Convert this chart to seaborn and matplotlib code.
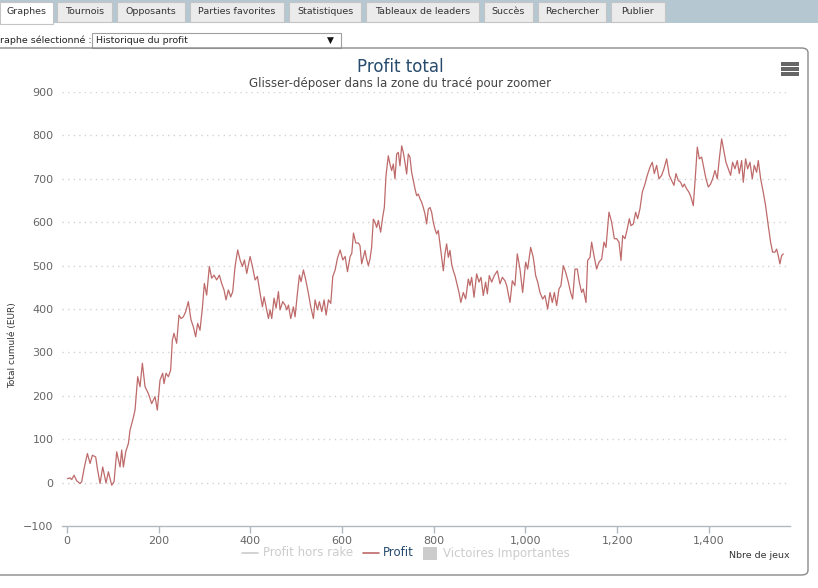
import matplotlib
matplotlib.use("Agg")
import matplotlib.pyplot as plt
from matplotlib.patches import Rectangle, FancyBboxPatch
from matplotlib.lines import Line2D
from matplotlib.ticker import FuncFormatter
import seaborn as sns
import pandas as pd

# ---------------- data ----------------
games = [0.7, 6.5, 10.2, 15.3, 21.1, 28.4, 32, 37.1, 44.4, 50.2, 55.3, 62.5, 66.2, 72, 77.8, 85,
         90.2, 97.4, 102.5, 108.3, 115.6, 119.2, 122.9, 128, 133.8, 137.4, 143.2, 148.3, 154.1,
         159.2, 164.3, 170.1, 177.4, 184.6, 191.9, 197, 202.8, 208.6, 211.5, 215.9, 221, 226,
         229.7, 233.3, 239.1, 244.2, 248.6, 253.7, 258.8, 264.6, 270.4, 275.5, 280.6, 284.9, 290,
         295.2, 299.5, 304.6, 310.4, 315.5, 320.6, 326.4, 332.2, 337.3, 342.4, 346.8, 351.9, 357,
         361.4, 366.5, 372.3, 377.4, 382.5, 386.9, 392, 399.3, 404.4, 410.2, 415.3, 421.1, 426.2,
         429.8, 435.6, 439.3, 442.9, 446.5, 451.6, 456, 461.1, 464.7, 470.5, 475.6, 479.3, 482.9,
         488, 493.8, 497.4, 502.5, 506.9, 510.5, 515.6, 520.7, 526.5, 531.6, 537.4, 541.1, 546.2,
         550.5, 555.6, 560.7, 565.1, 570.2, 575.3, 579.7, 584.8, 589.9, 595.7, 601.5, 606.6, 611.7,
         617.5, 621.1, 624.8, 629.9, 635.7, 639.0,
         642.7, 646.3, 649.9, 653.5, 657.2, 660.8, 664.4, 668.1, 671.7, 675.4, 679, 684.1, 688.4,
         692.1, 695.7, 700.8, 704.4, 708.1, 711.7, 715.3, 719, 722.6, 726.2, 729.9, 733.5, 737.1,
         740.8, 744.4, 748, 751.7, 755.3, 759, 762.6, 766.2, 769.9, 773.5, 777.1, 780.8, 784.4,
         788, 791.7, 795.3, 798.9, 802.6, 806.2, 809.8, 813.5, 817.1, 820.8, 824.4, 828, 831.7,
         835.3, 838.9, 842.6, 846.2,
         855, 859, 864.4, 869.5, 875.3, 879, 882.6, 887.7, 893.5, 898.6, 903, 908, 913, 916.8,
         921, 926.2, 932, 938.6, 944.4, 949.5, 955.3, 959, 966.2, 971.3, 977, 982.2, 988, 993.8,
         1000.4, 1004.7, 1011.3, 1017, 1022.2, 1026.6, 1031.6, 1037.5, 1042.5, 1048.4, 1053.5,
         1058.5, 1063, 1068, 1073, 1077.4, 1082.5, 1087.6, 1093.4, 1098.5, 1102.9, 1108, 1113,
         1117.4, 1122.5, 1126, 1132, 1135.6, 1140.7, 1144.3, 1149.4, 1155.2, 1160.3, 1166.2,
         1171.2, 1175.6, 1182.1, 1188, 1193.8, 1198.9, 1204, 1208.3, 1212, 1217, 1222.1, 1226.5,
         1230.1, 1235.2, 1240.3, 1244.7, 1249.7, 1254.8, 1260.6, 1265.7, 1271.6, 1276.6, 1281,
         1286.1, 1291.2, 1297, 1302, 1307.9, 1313.7, 1318.8, 1323.9, 1328.3, 1333.3, 1338.4,
         1342.8, 1346.4, 1351.5, 1356.6, 1361, 1366, 1369.7, 1374.8, 1379.1, 1384.3, 1389.3,
         1393.7, 1398.8, 1403.9, 1408.2, 1413.3, 1418.4, 1422.8, 1427.9, 1433, 1437.3, 1442.4,
         1447.5, 1451.8, 1457, 1462, 1466.4, 1471.5, 1475.1, 1480.2, 1484.6, 1489.7, 1494.7,
         1499.1, 1504.2, 1507.8, 1513, 1518.7, 1523.8, 1529.6, 1534.7, 1539.1, 1544.2, 1547.8,
         1551.4, 1555, 1558.7, 1562.4]

profit = [9, 11, 7, 17, 4, -2, 2, 32, 67, 44, 63, 59, 32, -2, 36, -1,
          25, -6, 2, 71, 36, 75, 36, 71, 90, 121, 144, 167, 244,
          221, 275, 221, 205, 182, 198, 167, 236, 252, 228, 252, 244, 259,
          328, 344, 321, 386, 378, 382, 394, 417, 375, 359, 336, 367, 351,
          402, 459, 432, 498, 471, 478, 467, 478, 459, 444, 421, 444, 428,
          440, 498, 536, 513, 498, 513, 482, 521, 498, 467, 475, 436, 405,
          428, 398, 378, 398, 378, 425, 402, 440, 398, 417, 409, 398, 409,
          378, 405, 382, 436, 478, 463, 490, 467, 436, 405, 378, 421, 398,
          417, 394, 421, 386, 421, 413, 475, 490, 517, 536, 513, 521, 486,
          521, 528, 575, 552, 552, 546,
          504, 519, 535, 515, 500, 515, 542, 607, 600, 588, 604, 577, 611,
          634, 707, 753, 734, 719, 734, 700, 757, 761, 730, 776, 761, 738,
          711, 757, 750, 715, 696, 677, 661, 665, 654, 646, 634, 619, 596,
          630, 634, 623, 600, 584, 573, 581, 550, 519, 488, 527, 550, 519,
          535, 504, 488, 477,
          438, 415, 438, 423, 469, 454, 473, 427, 481, 462, 473, 431, 462, 435,
          477, 462, 477, 488, 458, 473, 465, 454, 415, 465, 454, 527, 492, 438,
          508, 492, 542, 519, 477, 462, 438, 423, 431, 400, 438,
          415, 438, 408, 446, 454, 500, 485, 462, 438, 423, 492, 492,
          462, 438, 446, 415, 512, 519, 554, 523, 492, 508, 515,
          554, 542, 623, 600, 562, 562, 554, 512, 569, 562, 585, 608,
          592, 596, 623, 608, 631, 669, 688, 708, 727, 738, 712,
          731, 700, 708, 723, 746, 708, 696, 685, 712, 696, 692,
          681, 688, 677, 669, 658, 638, 692, 773, 746, 750, 723,
          700, 681, 688, 700, 719, 700, 746, 792, 762, 738, 723,
          708, 738, 723, 742, 712, 742, 692, 746, 723, 738, 700,
          731, 715, 742, 700, 669, 638, 592, 554, 531, 531, 538,
          523, 504, 523, 527]

y_ticks = [-100, 0, 100, 200, 300, 400, 500, 600, 700, 800, 900]
x_ticks = [0, 200, 400, 600, 800, 1000, 1200, 1400]

title_text = "Profit total"
subtitle_text = "Glisser-déposer dans la zone du tracé pour zoomer"
ylabel_text = "Total cumulé (EUR)"
xlabel_text = "Nbre de jeux"
legend_labels = ["Profit hors rake", "Profit", "Victoires Importantes"]
tabs = ["Graphes", "Tournois", "Opposants", "Parties favorites", "Statistiques",
        "Tableaux de leaders", "Succès", "Rechercher", "Publier"]

# ---------------- styling ----------------
sns.set_theme(style="white")
plt.rcParams["font.family"] = ["DejaVu Sans"]

W, H = 818, 588
LINE = "#bf6a6a"
GRID = "#d2d2d2"
LBL = "#666666"

fig = plt.figure(figsize=(W / 100, H / 100), dpi=100)
fig.patch.set_facecolor("white")


def fx(x):
    return x / W


def fy(y):
    return 1 - y / H


# top tab bar
fig.add_artist(Rectangle((0, fy(23)), 1, 23 / H, transform=fig.transFigure,
                         facecolor="#b5c8d1", edgecolor="none", zorder=0))
tab_pos = [(0, 53), (57, 112), (117, 185), (190, 284), (289, 361), (366, 479),
           (484, 533), (538, 606), (611, 665)]
for i, (name, (a, b)) in enumerate(zip(tabs, tab_pos)):
    active = i == 0
    top, bot = 2, (24 if active else 22)
    fig.add_artist(Rectangle((fx(a), fy(bot)), (b - a) / W, (bot - top) / H,
                             transform=fig.transFigure,
                             facecolor="white" if active else "#ebebeb",
                             edgecolor="#c4c4c4", linewidth=0.8, zorder=1))
    fig.text(fx((a + b) / 2), fy(12), name, ha="center", va="center",
             fontsize=6.8, color="#333333")

# graph selector
fig.text(fx(0), fy(40), "raphe sélectionné :", ha="left", va="center",
         fontsize=6.8, color="#222222")
fig.add_artist(Rectangle((fx(92), fy(48)), (341 - 92) / W, 15 / H,
                         transform=fig.transFigure, facecolor="white",
                         edgecolor="#a0a0a0", linewidth=0.8))
fig.text(fx(96), fy(40.5), "Historique du profit", ha="left", va="center",
         fontsize=6.8, color="#222222")
fig.text(fx(330), fy(40.5), "▼", ha="center", va="center", fontsize=6.5,
         color="#111111")

# chart container
fig.add_artist(FancyBboxPatch((fx(-10), fy(575)), 818 / W, (575 - 48) / H,
                              boxstyle="round,pad=0,rounding_size=0.008",
                              transform=fig.transFigure, facecolor="none",
                              edgecolor="#8a8a8a", linewidth=1.0))

# menu icon
for yy in (64, 69, 74):
    fig.add_artist(Rectangle((fx(781), fy(yy + 1.8)), 18 / W, 3.6 / H,
                             transform=fig.transFigure, facecolor="#666666",
                             edgecolor="none"))

# titles
fig.text(fx(400), fy(67), title_text, ha="center", va="center", fontsize=12,
         color="#274b6d")
fig.text(fx(400), fy(84), subtitle_text, ha="center", va="center", fontsize=8.5,
         color="#444444")
fig.text(fx(13), fy(345), ylabel_text, ha="center", va="center", rotation=90,
         fontsize=6.5, color="#333333")
fig.text(fx(790), fy(556), xlabel_text, ha="right", va="center", fontsize=6.8,
         color="#333333")

# plot area
left, right, top, bottom = 62, 790, 92, 526
ax = fig.add_axes([fx(left), fy(bottom), (right - left) / W, (bottom - top) / H])
ax.set_facecolor("none")

df = pd.DataFrame({"games": games, "profit": profit})
sns.lineplot(data=df, x="games", y="profit", ax=ax, color=LINE, linewidth=0.9,
             estimator=None, sort=False, legend=False)

ax.set_xlim(-11, 1577)
ax.set_ylim(-100, 900)
ax.set_yticks(y_ticks)
ax.set_xticks(x_ticks)
ax.xaxis.set_major_formatter(FuncFormatter(lambda v, p: f"{int(v):,}"))
for yv in y_ticks[1:]:
    ax.axhline(yv, color=GRID, linewidth=1.0, linestyle=(0, (1, 3)), zorder=0)
for s in ("top", "right", "left"):
    ax.spines[s].set_visible(False)
ax.spines["bottom"].set_color("#b0b8c0")
ax.spines["bottom"].set_linewidth(1.0)
ax.tick_params(axis="y", length=0, labelsize=8, labelcolor=LBL, pad=6)
ax.tick_params(axis="x", length=5, width=1, color="#b0b8c0", direction="out",
               labelsize=8, labelcolor=LBL, pad=2, bottom=True)
ax.set_xlabel("")
ax.set_ylabel("")
ax.grid(False)

# legend
fig.add_artist(Line2D([fx(242), fx(258)], [fy(553), fy(553)], transform=fig.transFigure,
                      color="#cccccc", linewidth=1.2))
fig.text(fx(263), fy(553), legend_labels[0], ha="left", va="center", fontsize=8.5,
         color="#cccccc")
fig.add_artist(Line2D([fx(363), fx(379)], [fy(553), fy(553)], transform=fig.transFigure,
                      color=LINE, linewidth=1.2))
fig.text(fx(383), fy(553), legend_labels[1], ha="left", va="center", fontsize=8.5,
         color="#274b6d")
fig.add_artist(Rectangle((fx(423), fy(560)), 14 / W, 13 / H, transform=fig.transFigure,
                         facecolor="#cccccc", edgecolor="none"))
fig.text(fx(443), fy(553), legend_labels[2], ha="left", va="center", fontsize=8.5,
         color="#cccccc")

fig.savefig("out.png", dpi=100, facecolor="white")
